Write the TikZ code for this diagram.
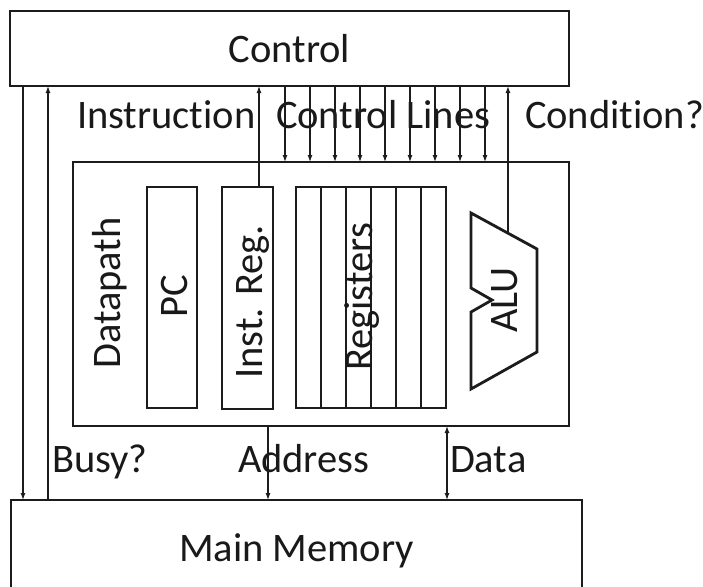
\documentclass[tikz,border=0pt]{standalone}
\usepackage{fontspec}
\setmainfont{Carlito}[RawFeature={-liga,-dlig,-clig}]
\usetikzlibrary{arrows.meta,calc}
\definecolor{ln}{RGB}{28,28,28}
\definecolor{tx}{RGB}{25,25,25}
\begin{document}
\begin{tikzpicture}[x=1pt,y=-1pt,
  every node/.style={font=\fontsize{40.5}{48}\selectfont, text=tx, inner sep=0pt, outer sep=0pt},
  box/.style={draw=ln, line width=1.3pt, inner sep=0pt},
  conn/.style={draw=ln, line width=1.2pt},
  arr/.style={conn, -{Latex[length=7pt,width=5pt]}},
  darr/.style={conn, {Latex[length=7pt,width=5pt]}-{Latex[length=7pt,width=5pt]}},
  alu/.style={draw=ln, line width=2.8pt, line join=miter},
  lbl/.style={anchor=base west},
  vlbl/.style={anchor=base, rotate=90}]
\useasboundingbox (0,0) rectangle (703,586);
\fill[white] (0,0) rectangle (703,586);
% main boxes
\node[box, minimum width=559pt, minimum height=75pt] (ctrl) at (289.5,48.5) {Control};
\node[box, minimum width=496pt, minimum height=264pt] (dp) at (321,294) {};
\node[box, minimum width=571pt, minimum height=101pt] (mem) at (296.5,550.5) {Main Memory};
% datapath contents
\node[box, minimum width=50pt, minimum height=221pt] (pc) at (172,297.5) {};
\node[box, minimum width=51pt, minimum height=222pt] (ir) at (247.5,298) {};
\node[box, minimum width=150pt, minimum height=221pt] (regs) at (371,297.5) {};
\foreach \i in {1,...,5}
  \draw[box] ($(regs.north west)+(25*\i,0)$) -- ($(regs.south west)+(25*\i,0)$);
\draw[alu] (471,213) coordinate (a1) -- (537,249) coordinate (a2) -- (537,352) -- (471,389)
  -- (471,312) -- (492,300) -- (471,288) -- cycle;
\coordinate (condpt) at ($(a1)!0.56!(a2)$);
% rotated texts
\node[vlbl] (dptxt) at (120,293) {Datapath};
\node[vlbl] (pctxt) at (187,296) {PC};
\node[vlbl] (irtxt) at (262,302) {Inst. Reg.};
\node[vlbl] (regtxt) at (372,297) {Registers};
\node[vlbl] (alutxt) at (517,300) {ALU};
% labels
\node[lbl] (instr) at (77,128) {Instruction};
\node[lbl] (cl) at (276,128) {Control Lines};
\node[lbl] (condl) at (525,128) {Condition?};
\node[lbl] (busy) at (52,472) {Busy?};
\node[lbl] (addr) at (238,472) {Address};
\node[lbl] (data) at (450,472) {Data};
% x positions
\coordinate (xd) at (23,0);
\coordinate (xu) at (48,0);
\coordinate (xi) at (259,0);
\coordinate (xa) at (268,0);
\coordinate (xdt) at (447,0);
% connectors
\draw[arr] (ctrl.south -| xd) -- (mem.north -| xd);
\draw[arr] (mem.north -| xu) -- (ctrl.south -| xu);
\draw[arr] (ir.north -| xi) -- (ctrl.south -| xi);
\foreach \i in {0,...,8} {
  \coordinate (c\i) at (285+25*\i,0);
  \draw[arr] (ctrl.south -| c\i) -- (dp.north -| c\i);
}
\draw[arr] (condpt) -- (ctrl.south -| condpt);
\draw[arr] (dp.south -| xa) -- (mem.north -| xa);
\draw[darr] (dp.south -| xdt) -- (mem.north -| xdt);
\end{tikzpicture}
\end{document}
